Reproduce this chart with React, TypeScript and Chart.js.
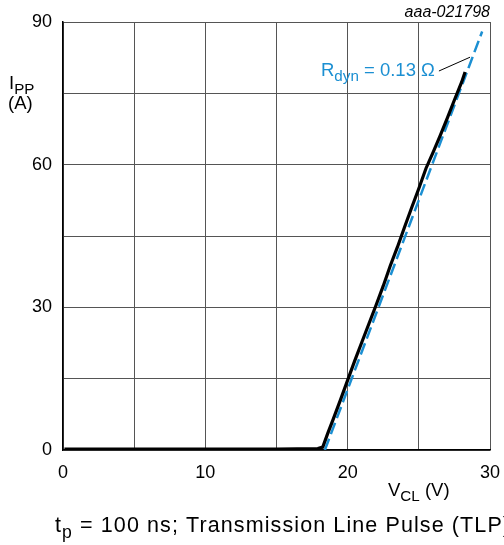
import React, { useEffect, useRef } from "react";
import { Chart, registerables } from "chart.js";

Chart.register(...registerables);

// Measured TLP curve (V_CL in V, I_PP in A)
const measuredV = [0.1, 5, 10, 15, 17.9, 18.25, 18.6, 19.0, 19.5, 20.0, 20.5, 21.0, 21.5, 22.0, 22.5, 23.0, 23.5, 24.0, 24.5, 25.0, 25.5, 26.0, 26.5, 27.0, 27.5, 28.0, 28.25];
const measuredI = [0.2, 0.2, 0.2, 0.2, 0.3, 0.6, 3.5, 6.6, 10.6, 14.7, 18.8, 22.7, 26.6, 30.5, 34.5, 38.8, 42.7, 46.9, 51.0, 55.0, 59.2, 62.6, 66.1, 69.8, 73.6, 77.3, 79.5];

// Fitted dynamic-resistance line
const fitV = [18.4, 29.45];
const fitI = [0, 88];

const xTickLabels = [0, 10, 20, 30];
const yTickLabels = [0, 30, 60, 90];

const FONT = "Arial, 'Liberation Sans', Helvetica, sans-serif";
const BLUE = "#1b8fd2";

function drawSub(ctx: CanvasRenderingContext2D, x: number, y: number, main: string, sub: string, rest: string, size: number, color: string, spacing = 0) {
  ctx.save();
  (ctx as any).letterSpacing = `${spacing}px`;
  ctx.fillStyle = color;
  ctx.textBaseline = "alphabetic";
  ctx.textAlign = "left";
  ctx.font = `${size}px ${FONT}`;
  const w1 = ctx.measureText(main).width;
  const subSize = Math.round(size * 0.82 * 10) / 10;
  ctx.font = `${subSize}px ${FONT}`;
  const w2 = ctx.measureText(sub).width;
  ctx.font = `${size}px ${FONT}`;
  const w3 = ctx.measureText(rest).width;
  let sx = x;
  ctx.fillText(main, sx, y);
  sx += w1;
  ctx.font = `${subSize}px ${FONT}`;
  ctx.fillText(sub, sx, y + size * 0.28);
  sx += w2;
  ctx.font = `${size}px ${FONT}`;
  ctx.fillText(rest, sx, y);
  ctx.restore();
  return sx + w3;
}

const textPlugin = {
  id: "textPlugin",
  afterDraw(chart: any) {
    const ctx: CanvasRenderingContext2D = chart.ctx;
    const area = chart.chartArea;
    const xs = chart.scales.x;
    const ys = chart.scales.y;
    // figure id
    ctx.save();
    ctx.font = `italic 16px ${FONT}`;
    ctx.fillStyle = "#000";
    ctx.textAlign = "right";
    ctx.textBaseline = "alphabetic";
    ctx.fillText("aaa-021798", area.right, 17);
    ctx.restore();
    // y axis label
    drawSub(ctx, 9, 89, "I", "PP", "", 18.5, "#000");
    ctx.save();
    ctx.font = `18.5px ${FONT}`;
    ctx.fillStyle = "#000";
    ctx.fillText("(A)", 8, 109);
    ctx.restore();
    // x axis label
    drawSub(ctx, 388, 496, "V", "CL", " (V)", 18.5, "#000");
    // caption
    drawSub(ctx, 55, 532, "t", "p", " = 100 ns; Transmission Line Pulse (TLP)", 21.5, "#000", 1.1);
    // annotation
    const endX = drawSub(ctx, 321, 76, "R", "dyn", " = 0.13 Ω", 18.5, BLUE);
    ctx.save();
    ctx.strokeStyle = "#000";
    ctx.lineWidth = 1;
    ctx.beginPath();
    ctx.moveTo(endX + 4, 71);
    ctx.lineTo(xs.getPixelForValue(28.6), ys.getPixelForValue(82.6));
    ctx.stroke();
    ctx.restore();
  },
};

export default function App() {
  const ref = useRef<HTMLCanvasElement | null>(null);
  useEffect(() => {
    if (!ref.current) return;
    const chart = new Chart(ref.current, {
      type: "scatter",
      data: {
        datasets: [
          {
            data: measuredV.map((v, i) => ({ x: v, y: measuredI[i] })),
            showLine: true,
            borderColor: "#000",
            borderWidth: 3.2,
            pointRadius: 0,
            tension: 0,
          },
          {
            data: fitV.map((v, i) => ({ x: v, y: fitI[i] })),
            showLine: true,
            borderColor: BLUE,
            borderWidth: 2.5,
            borderDash: [12, 5],
            pointRadius: 0,
          },
        ],
      },
      options: {
        responsive: false,
        animation: false,
        devicePixelRatio: 1,
        layout: { padding: { left: 0, top: 22, right: 14, bottom: 0 } },
        plugins: { legend: { display: false }, tooltip: { enabled: false } },
        scales: {
          x: {
            type: "linear",
            min: 0,
            max: 30,
            afterFit: (s: any) => { s.height = 95; s.paddingLeft = 0; s.paddingRight = 0; },
            border: { color: "#000", width: 1.5 },
            grid: { color: "#555", lineWidth: 1, drawTicks: false },
            ticks: {
              stepSize: 5,
              padding: 12,
              color: "#000",
              font: { family: FONT, size: 18 },
              maxRotation: 0,
              callback: (v: any) => (xTickLabels.includes(v) ? String(v) : ""),
            },
          },
          y: {
            type: "linear",
            min: 0,
            max: 90,
            afterFit: (s: any) => { s.width = 63; s.paddingTop = 0; s.paddingBottom = 0; },
            border: { color: "#000", width: 1.5 },
            grid: { color: "#555", lineWidth: 1, drawTicks: false },
            ticks: {
              stepSize: 15,
              padding: 11,
              color: "#000",
              font: { family: FONT, size: 18 },
              callback: (v: any) => (yTickLabels.includes(v) ? String(v) : ""),
            },
          },
        },
      },
      plugins: [textPlugin],
    });
    return () => chart.destroy();
  }, []);
  return (
    <div style={{ position: "absolute", left: 0, top: 0, width: 504, height: 545, background: "#fff" }}>
      <canvas ref={ref} width={504} height={545} style={{ width: 504, height: 545 }} />
    </div>
  );
}
